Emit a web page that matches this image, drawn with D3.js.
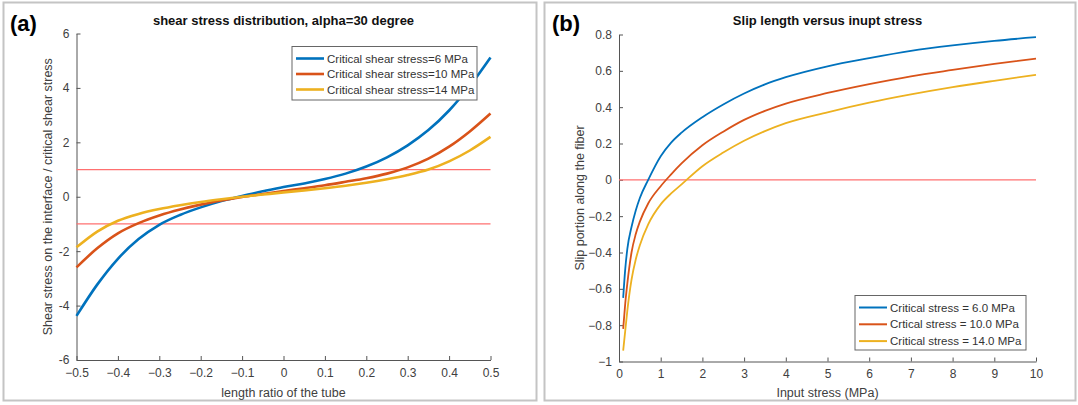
<!DOCTYPE html>
<html>
<head>
<meta charset="utf-8">
<script src="https://cdn.jsdelivr.net/npm/d3@7"></script>
<style>
  body { margin: 0; background: #fff; }
  svg { font-family: "Liberation Sans", Arial, sans-serif; }
  .tick text { fill: #404040; font-size: 12px; }
  .domain, .tick line { stroke: #555; }
</style>
</head>
<body>
<svg id="chart" width="1078" height="405"></svg>
<script>
// Panel (a): shear stress ratio along the tube
const ratioX = [-0.5, -0.45, -0.4, -0.35, -0.3, -0.25, -0.2, -0.15, -0.1, -0.05, 0,
  0.05, 0.1, 0.15, 0.2, 0.25, 0.3, 0.35, 0.4, 0.45, 0.5];
const shear6 = [-4.38, -3.23, -2.28, -1.555, -1.03, -0.67, -0.39, -0.16, 0.03, 0.2, 0.36,
  0.49, 0.65, 0.85, 1.11, 1.45, 1.89, 2.45, 3.17, 4.07, 5.12];
const shear10 = [-2.595, -1.895, -1.345, -0.97, -0.69, -0.47, -0.29, -0.14, -0.01, 0.1, 0.21,
  0.315, 0.425, 0.55, 0.68, 0.85, 1.08, 1.4, 1.84, 2.4, 3.06];
const shear14 = [-1.86, -1.28, -0.88, -0.63, -0.45, -0.31, -0.19, -0.09, 0.0, 0.08, 0.16,
  0.235, 0.315, 0.405, 0.515, 0.645, 0.8, 1.0, 1.3, 1.7, 2.2];
const shearLabels = ["Critical shear stress=6 MPa", "Critical shear stress=10 MPa", "Critical shear stress=14 MPa"];
const ratioTicks = [-0.5, -0.4, -0.3, -0.2, -0.1, 0, 0.1, 0.2, 0.3, 0.4, 0.5];
const shearTicks = [-6, -4, -2, 0, 2, 4, 6];
const shearLimits = [-1, 1];

// Panel (b): slip portion vs input stress
const stressX = [0.1, 0.15, 0.2, 0.3, 0.4, 0.5, 0.7, 1, 1.25, 1.5, 2, 2.5, 3, 3.5, 4, 5, 6, 7, 8, 9, 10];
const slip6 = [-0.65, -0.49, -0.38, -0.26, -0.17, -0.1, 0.0, 0.13, 0.205, 0.26, 0.345, 0.415, 0.475,
  0.525, 0.565, 0.625, 0.67, 0.71, 0.74, 0.765, 0.785];
const slip10 = [-0.82, -0.68, -0.57, -0.4, -0.3, -0.23, -0.13, -0.035, 0.03, 0.09, 0.19, 0.265, 0.33,
  0.38, 0.42, 0.478, 0.527, 0.57, 0.605, 0.638, 0.667];
const slip14 = [-0.94, -0.83, -0.72, -0.55, -0.44, -0.36, -0.245, -0.135, -0.075, -0.025, 0.075, 0.15, 0.215,
  0.268, 0.312, 0.372, 0.425, 0.47, 0.51, 0.545, 0.578];
const slipLabels = ["Critical stress = 6.0 MPa", "Crtical stress = 10.0 MPa", "Critical stress = 14.0 MPa"];
const stressTicks = [0, 1, 2, 3, 4, 5, 6, 7, 8, 9, 10];
const slipTicks = [-1, -0.8, -0.6, -0.4, -0.2, 0, 0.2, 0.4, 0.6, 0.8];

const colors = ["#0072BD", "#D95319", "#EDB120"];
const refColor = "#ff7070";

const svg = d3.select("#chart");

// panel frames
svg.append("rect").attr("x", 3.5).attr("y", 2.5).attr("width", 533).attr("height", 398)
  .attr("fill", "none").attr("stroke", "#c4c4c4").attr("stroke-width", 2);
svg.append("rect").attr("x", 544.5).attr("y", 2.5).attr("width", 531).attr("height", 398)
  .attr("fill", "none").attr("stroke", "#c4c4c4").attr("stroke-width", 2);

function panel(opts) {
  const x = d3.scaleLinear().domain(opts.xDomain).range(opts.xRange);
  const y = d3.scaleLinear().domain(opts.yDomain).range(opts.yRange);
  const g = svg.append("g");

  g.append("g")
    .attr("transform", `translate(0,${opts.yRange[0]})`)
    .call(d3.axisBottom(x).tickValues(opts.xTicks).tickSizeInner(-4).tickSizeOuter(0)
      .tickPadding(8).tickFormat(opts.xFormat));
  g.append("g")
    .attr("transform", `translate(${opts.xRange[0]},0)`)
    .call(d3.axisLeft(y).tickValues(opts.yTicks).tickSizeInner(-4).tickSizeOuter(0)
      .tickPadding(7).tickFormat(opts.yFormat));

  // reference lines
  opts.refs.forEach(v => {
    g.append("line")
      .attr("x1", x(opts.xDomain[0])).attr("x2", x(opts.xDomain[1]))
      .attr("y1", y(v)).attr("y2", y(v))
      .attr("stroke", refColor).attr("stroke-width", 1.3);
  });

  const line = d3.line().x(d => x(d[0])).y(d => y(d[1])).curve(d3.curveMonotoneX);
  opts.series.forEach((s, i) => {
    g.append("path")
      .datum(opts.xs.map((v, j) => [v, s[j]]))
      .attr("fill", "none")
      .attr("stroke", colors[i])
      .attr("stroke-width", opts.lineWidth)
      .attr("d", line);
  });

  const cx = (opts.xRange[0] + opts.xRange[1]) / 2;
  g.append("text").attr("x", cx).attr("y", 25).attr("text-anchor", "middle")
    .attr("font-size", 13).attr("font-weight", "bold").attr("fill", "#111").text(opts.title);
  g.append("text").attr("x", opts.tagX).attr("y", 31)
    .attr("font-size", 22).attr("font-weight", "bold").attr("fill", "#000").text(opts.tag);
  g.append("text").attr("x", cx).attr("y", 397).attr("text-anchor", "middle")
    .attr("font-size", 12.5).attr("fill", "#404040").text(opts.xLabel);
  g.append("text")
    .attr("transform", `translate(${opts.yLabelX},${(opts.yRange[0] + opts.yRange[1]) / 2}) rotate(-90)`)
    .attr("text-anchor", "middle").attr("font-size", 12.5).attr("fill", "#404040").text(opts.yLabel);

  // legend
  const lg = g.append("g").attr("transform", `translate(${opts.legend.x},${opts.legend.y})`);
  lg.append("rect").attr("width", opts.legend.w).attr("height", opts.legend.h)
    .attr("fill", "#fff").attr("stroke", "#666").attr("stroke-width", 1);
  opts.labels.forEach((t, i) => {
    const ly = opts.legend.first + i * opts.legend.step;
    lg.append("line").attr("x1", 4).attr("x2", 32).attr("y1", ly).attr("y2", ly)
      .attr("stroke", colors[i]).attr("stroke-width", opts.legendWidth);
    lg.append("text").attr("x", 35).attr("y", ly + 4).attr("font-size", 11.5)
      .attr("fill", "#333").text(t);
  });
}

panel({
  xDomain: [-0.5, 0.5], xRange: [76.5, 490.5],
  yDomain: [-6, 6], yRange: [360, 33.5],
  xTicks: ratioTicks, yTicks: shearTicks,
  xFormat: d => d3.format("")(d), yFormat: d => d,
  xs: ratioX, series: [shear6, shear10, shear14], refs: shearLimits,
  lineWidth: 2.6, legendWidth: 2.6,
  title: "shear stress distribution, alpha=30 degree", tag: "(a)", tagX: 10,
  xLabel: "length ratio of the tube",
  yLabel: "Shear stress on the interface / critical shear stress", yLabelX: 52,
  labels: shearLabels,
  legend: { x: 292, y: 46.5, w: 185, h: 53.5, first: 12, step: 15.5 }
});

panel({
  xDomain: [0, 10], xRange: [619, 1036],
  yDomain: [-1, 0.8], yRange: [361.5, 34.5],
  xTicks: stressTicks, yTicks: slipTicks,
  xFormat: d => d, yFormat: d => d3.format("")(d),
  xs: stressX, series: [slip6, slip10, slip14], refs: [0],
  lineWidth: 1.8, legendWidth: 2,
  title: "Slip length versus inupt stress", tag: "(b)", tagX: 552,
  xLabel: "Input stress (MPa)",
  yLabel: "Slip portion along the fiber", yLabelX: 584,
  labels: slipLabels,
  legend: { x: 855, y: 295.5, w: 171, h: 54.5, first: 12, step: 16.8 }
});
</script>
</body>
</html>
